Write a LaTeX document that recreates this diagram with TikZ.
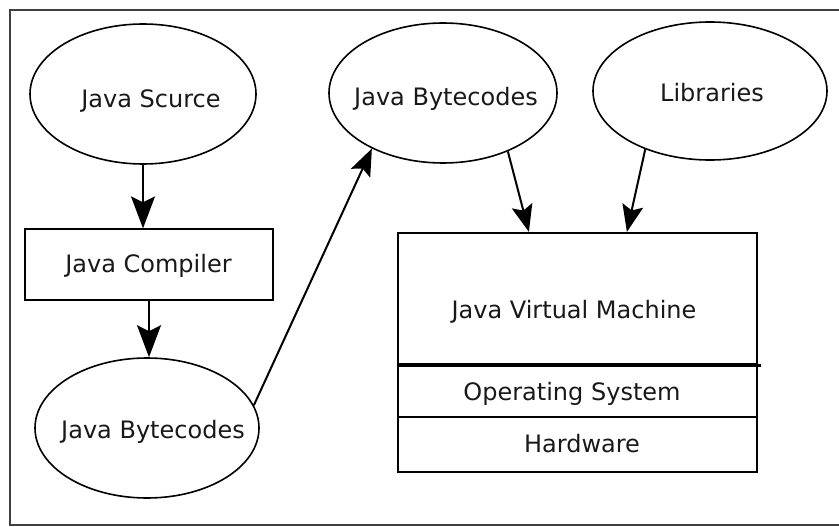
\documentclass[tikz,border=0pt]{standalone}
\usepackage{fontspec}
\setmainfont{DejaVu Sans}
\usetikzlibrary{shapes.geometric,arrows.meta,calc}
\tikzset{
  oval/.style={draw=black, line width=1.6pt, ellipse, inner sep=0pt},
  lbl/.style={anchor=base, inner sep=0pt, font=\fontsize{24}{28}\selectfont, text=black!90},
  arr/.style={draw=black, line width=2pt, -{Stealth[length=32pt,width=24pt,inset=6pt]}},
  arrs/.style={draw=black, line width=2pt, -{Stealth[length=27pt,width=21pt,inset=5pt]}},
  stackbox/.style={draw=black, line width=2.2pt, rectangle, inner sep=0pt, minimum width=359pt}
}
\begin{document}
\begin{tikzpicture}[x=1pt,y=-1pt]
\useasboundingbox (0,0) rectangle (839,527);
\clip (0,0) rectangle (839,527);
\fill[white] (0,0) rectangle (839,527);
% outer frame
\draw[draw=black!75, line width=1.3pt] (850,10) -- (10,10) -- (10,525) -- (850,525);

% ellipses
\node[oval, minimum width=226pt, minimum height=140pt] (src) at (143,94) {};
\node[oval, minimum width=224pt, minimum height=140pt] (bc1) at (147,428) {};
\node[oval, minimum width=228pt, minimum height=140pt] (bc2) at (443,93) {};
\node[oval, minimum width=234pt, minimum height=138pt] (lib) at (710,91) {};

% compiler box
\node[draw=black, line width=1.3pt, rectangle, inner sep=0pt, minimum width=248pt, minimum height=71pt] (comp) at (149,264.5) {};

% JVM stack
\node[stackbox, minimum height=131pt] (jvm) at (577.5,298.5) {};
\node[stackbox, minimum height=53pt] (os) at (577.5,390.5) {};
\node[stackbox, minimum height=55pt] (hw) at (577.5,444.5) {};
\draw[line width=3pt] (jvm.south west) -- ([xshift=3pt]jvm.south east);

% labels
\node[lbl] (tsrc) at (151,107) {Java Scurce};
\node[lbl] (tcomp) at (148.5,272) {Java Compiler};
\node[lbl] (tbc1) at (153,438) {Java Bytecodes};
\node[lbl] (tbc2) at (446,106) {Java Bytecodes};
\node[lbl] (tlib) at (712,102) {Libraries};
\node[lbl] (tjvm) at (574,318) {Java Virtual Machine};
\node[lbl] (tos) at (572,400) {Operating System};
\node[lbl] (thw) at (582,452) {Hardware};

% connectors
\draw[arr] (src.south) -- (src.south |- comp.north);
\draw[arr] (comp.south) -- (comp.south |- bc1.north);
\draw[arrs] (bc1.12) -- (bc2.218);
\draw[arrs] (bc2.318) -- ([xshift=132pt]jvm.north west);
\draw[arrs] (lib.222) -- ([xshift=230pt]jvm.north west);
\end{tikzpicture}
\end{document}
